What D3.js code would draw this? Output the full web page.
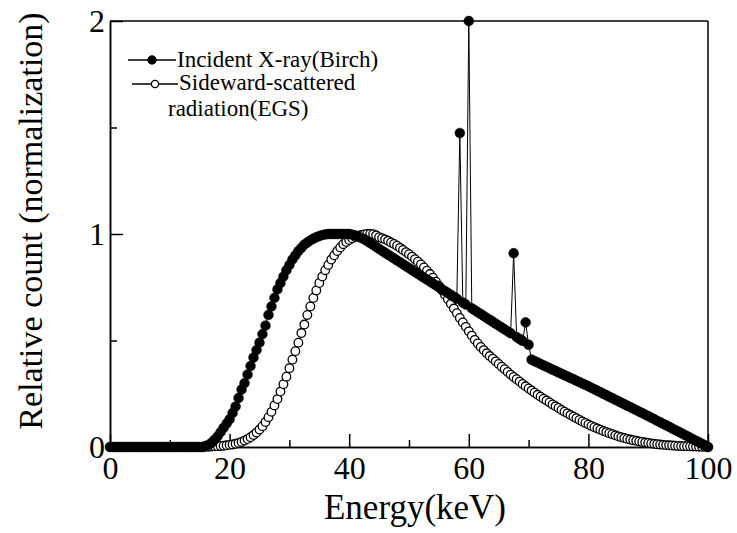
<!DOCTYPE html>
<html><head><meta charset="utf-8">
<script src="https://cdn.jsdelivr.net/npm/d3@7"></script>
<style>
body{margin:0;background:#fff}
svg{display:block}
text{font-family:"Liberation Serif","Times New Roman",serif;fill:#000}
</style></head>
<body><svg id="c" width="737" height="533"></svg>
<script>
// ---------------- data ----------------
const energyStart = 0, energyEnd = 100, energyStep = 0.5;   // keV grid of both spectra
const xMajorTicks = [0, 20, 40, 60, 80, 100];
const xMinorTicks = [10, 30, 50, 70, 90];
const yMajorTicks = [0, 1, 2];
const yMinorTicks = [0.5, 1.5];
const xTitle = "Energy(keV)";
const yTitle = "Relative count (normalization)";
const incidentLabel = ["Incident X-ray(Birch)"];
const scatteredLabel = ["Sideward-scattered", "radiation(EGS)"];

// Incident X-ray (Birch), 0 .. 100 keV every 0.5 keV
const incident = [
  0,0,0,0,0,0,0,0,0,0,
  0,0,0,0,0,0,0,0,0,0,
  0,0,0,0,0,0,0,0,0,0,
  0,0,0.005,0.01,0.02,0.035,0.05,0.07,0.09,0.11,
  0.13,0.16,0.19,0.23,0.27,0.30,0.34,0.38,0.42,0.455,
  0.49,0.53,0.57,0.62,0.66,0.70,0.74,0.77,0.80,0.83,
  0.855,0.88,0.90,0.92,0.935,0.95,0.96,0.97,0.978,0.985,
  0.99,0.995,0.998,1,1,1,1,1,1,1,
  1,0.997,0.993,0.988,0.982,0.975,0.967,0.958,0.949,0.94,
  0.93,0.921,0.912,0.903,0.894,0.885,0.876,0.867,0.858,0.849,
  0.84,0.831,0.822,0.813,0.804,0.795,0.786,0.777,0.768,0.759,
  0.75,0.741,0.732,0.723,0.714,0.705,0.696,1.474,0.678,0.669,
  2.0,0.651,0.642,0.633,0.624,0.615,0.606,0.597,0.588,0.579,
  0.57,0.561,0.552,0.543,0.534,0.91,0.516,0.507,0.498,0.585,
  0.48,0.41,0.403,0.397,0.39,0.383,0.377,0.37,0.363,0.357,
  0.35,0.344,0.337,0.331,0.324,0.318,0.311,0.305,0.298,0.292,
  0.285,0.278,0.271,0.264,0.257,0.25,0.243,0.236,0.229,0.222,
  0.215,0.208,0.201,0.194,0.187,0.18,0.173,0.166,0.159,0.152,
  0.145,0.138,0.131,0.123,0.116,0.109,0.102,0.095,0.087,0.080,
  0.073,0.066,0.058,0.051,0.044,0.036,0.029,0.022,0.015,0.007,
  0
];

// Sideward-scattered radiation (EGS), 0 .. 100 keV every 0.5 keV
const scattered = [
  0,0,0,0,0,0,0,0,0,0,
  0,0,0,0,0,0,0,0,0,0,
  0,0,0,0,0,0,0,0,0,0,
  0,0,0.001,0.001,0.002,0.003,0.004,0.005,0.006,0.008,
  0.01,0.012,0.015,0.019,0.024,0.03,0.037,0.046,0.056,0.068,
  0.082,0.098,0.117,0.14,0.165,0.195,0.225,0.26,0.295,0.33,
  0.37,0.41,0.45,0.49,0.535,0.575,0.62,0.66,0.70,0.735,
  0.77,0.80,0.83,0.855,0.88,0.90,0.92,0.937,0.952,0.963,
  0.972,0.98,0.986,0.991,0.995,0.998,1.0,1.0,0.999,0.994,
  0.985,0.98,0.975,0.968,0.96,0.953,0.945,0.935,0.925,0.915,
  0.905,0.894,0.882,0.87,0.857,0.843,0.828,0.812,0.795,0.776,
  0.757,0.736,0.715,0.694,0.672,0.65,0.628,0.606,0.585,0.564,
  0.543,0.523,0.503,0.486,0.47,0.455,0.44,0.427,0.415,0.402,
  0.39,0.377,0.365,0.352,0.34,0.329,0.318,0.307,0.296,0.285,
  0.275,0.265,0.255,0.245,0.236,0.227,0.218,0.209,0.2,0.191,
  0.183,0.174,0.166,0.158,0.15,0.142,0.135,0.127,0.12,0.113,
  0.106,0.099,0.093,0.087,0.081,0.075,0.07,0.065,0.06,0.055,
  0.05,0.046,0.042,0.038,0.035,0.032,0.029,0.026,0.024,0.021,
  0.019,0.017,0.015,0.013,0.012,0.01,0.009,0.008,0.007,0.006,
  0.005,0.0045,0.004,0.0035,0.003,0.0025,0.002,0.0015,0.001,0.0005,
  0
];

// ---------------- drawing ----------------
const energies = d3.range(energyStart, energyEnd + energyStep / 2, energyStep);
const svg = d3.select("#c");
const L = 110, R = 708, T = 21, B = 447;
const x = d3.scaleLinear().domain([0, 100]).range([L, R]);
const y = d3.scaleLinear().domain([0, 2]).range([B, T]);

const axisStyle = g => {
  g.selectAll("path,line").attr("stroke", "#000").attr("stroke-width", 1.5);
  g.selectAll("text").attr("fill", "#000").style("font-size", "32px")
    .style("font-family", '"Liberation Serif","Times New Roman",serif');
};

// minor ticks
svg.append("g").attr("transform", `translate(0,${B})`)
  .call(d3.axisBottom(x).tickValues(xMinorTicks).tickSizeInner(-7).tickSizeOuter(0).tickFormat(""))
  .call(axisStyle);
svg.append("g").attr("transform", `translate(${L},0)`)
  .call(d3.axisLeft(y).tickValues(yMinorTicks).tickSizeInner(-7).tickSizeOuter(0).tickFormat(""))
  .call(axisStyle);
// major ticks + labels
svg.append("g").attr("transform", `translate(0,${B})`)
  .call(d3.axisBottom(x).tickValues(xMajorTicks).tickSizeInner(-13).tickSizeOuter(0).tickPadding(9).tickFormat(d3.format("d")))
  .call(axisStyle);
svg.append("g").attr("transform", `translate(${L},0)`)
  .call(d3.axisLeft(y).tickValues(yMajorTicks).tickSizeInner(-13).tickSizeOuter(0).tickPadding(5).tickFormat(d3.format("d")))
  .call(axisStyle);

// top and right frame
svg.append("line").attr("x1", L).attr("x2", R).attr("y1", T).attr("y2", T)
  .attr("stroke", "#000").attr("stroke-width", 1.5);
svg.append("line").attr("x1", R).attr("x2", R).attr("y1", T).attr("y2", B)
  .attr("stroke", "#000").attr("stroke-width", 1.5);

// titles
svg.append("text").attr("x", 415).attr("y", 519).attr("text-anchor", "middle")
  .style("font-size", "35px").text(xTitle);
svg.append("text").attr("transform", "translate(42,221) rotate(-90)").attr("text-anchor", "middle")
  .style("font-size", "34px").text(yTitle);

// series
const line = d3.line().x((d, i) => x(energies[i])).y(d => y(d));
function drawSeries(values, filled, r) {
  const g = svg.append("g");
  g.append("path").datum(values).attr("d", line)
    .attr("fill", "none").attr("stroke", "#000").attr("stroke-width", 1);
  g.selectAll("circle").data(values).join("circle")
    .attr("cx", (d, i) => x(energies[i])).attr("cy", d => y(d)).attr("r", r)
    .attr("fill", filled ? "#000" : "#fff").attr("stroke", "#000")
    .attr("stroke-width", filled ? 0.5 : 1.3);
}
drawSeries(scattered, false, 4.3);
drawSeries(incident, true, 4.9);

// legend
function legendEntry(x1, x2, ly, filled, r, labels, baselines, txs) {
  svg.append("line").attr("x1", x1).attr("x2", x2).attr("y1", ly).attr("y2", ly)
    .attr("stroke", "#000").attr("stroke-width", 1.3);
  svg.append("circle").attr("cx", (x1 + x2) / 2).attr("cy", ly).attr("r", r)
    .attr("fill", filled ? "#000" : "#fff").attr("stroke", "#000").attr("stroke-width", 1.3);
  labels.forEach((t, i) => {
    svg.append("text").attr("x", txs[i]).attr("y", baselines[i])
      .style("font-size", "23px").text(t);
  });
}
legendEntry(128, 176, 60, true, 4, incidentLabel, [67], [177]);
legendEntry(132, 178, 84, false, 3.6, scatteredLabel, [90, 116], [179, 168]);
</script>
</body></html>
